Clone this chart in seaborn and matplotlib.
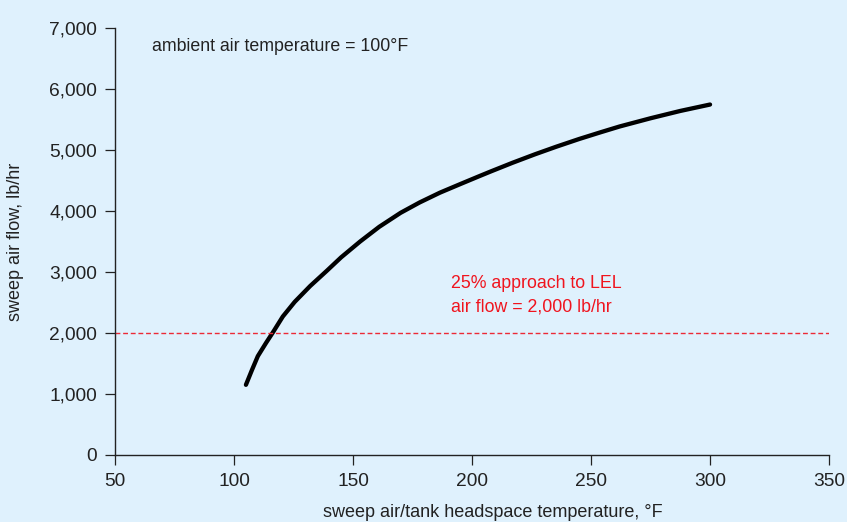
import numpy as np
import matplotlib
matplotlib.use('Agg')
import matplotlib.pyplot as plt
import seaborn as sns
import pandas as pd

# curve
temp_f = [105, 107.5, 110, 113.5, 116.5, 120.5, 125.5, 132, 139, 145, 153, 161, 170, 178,
          186.5, 195, 203, 208, 217, 226.5, 235.5, 245, 254, 262, 275, 287.5, 300]
air_flow = [1150, 1390, 1620, 1840, 2020, 2270, 2510, 2770, 3020, 3240, 3500, 3740, 3970, 4140,
            4300, 4440, 4570, 4650, 4790, 4930, 5055, 5180, 5290, 5385, 5520, 5640, 5745]
lel_flow = 2000
x_ticks = [50, 100, 150, 200, 250, 300, 350]
y_ticks = [0, 1000, 2000, 3000, 4000, 5000, 6000, 7000]

bg = '#dff1fd'
sns.set_style('ticks')
plt.rcParams['font.family'] = ['Liberation Sans', 'DejaVu Sans']

df = pd.DataFrame({'temp': temp_f, 'flow': air_flow})

fig = plt.figure(figsize=(8.47, 5.22), dpi=100, facecolor=bg)
ax = fig.add_axes([0.1358, 0.1284, 0.843, 0.818])
ax.set_facecolor(bg)

sns.lineplot(data=df, x='temp', y='flow', sort=False, color='black', linewidth=3.1, ax=ax,
             solid_capstyle='round', solid_joinstyle='round')
ax.axhline(lel_flow, color='#ec2a36', linestyle=(0, (3.5, 2)), linewidth=1.0)

ax.set_xlim(50, 350)
ax.set_ylim(0, 7000)
ax.set_xticks(x_ticks)
ax.set_yticks(y_ticks)
ax.set_yticklabels([f'{v:,}' for v in y_ticks])
ax.tick_params(axis='both', length=7, width=0.9, pad=6, labelsize=13.8, colors='#222222')
for s in ['top', 'right']:
    ax.spines[s].set_visible(False)
for s in ['left', 'bottom']:
    ax.spines[s].set_linewidth(1.0)
    ax.spines[s].set_color('#222222')

ax.set_xlabel('sweep air/tank headspace temperature, °F', fontsize=13, color='#222222')
ax.set_ylabel('sweep air flow, lb/hr', fontsize=13, color='#222222')
ax.xaxis.set_label_coords(0.529, -0.115)
ax.yaxis.set_label_coords(-0.128, 0.5)

ax.text(65.5, 6690, 'ambient air temperature = 100°F', fontsize=12.8, color='#222222',
        ha='left', va='center')
ax.text(191, 2620, '25% approach to LEL\nair flow = 2,000 lb/hr', fontsize=12.8,
        color='#f0141e', ha='left', va='center', linespacing=1.5)

fig.savefig('out.png', dpi=100, facecolor=bg)
